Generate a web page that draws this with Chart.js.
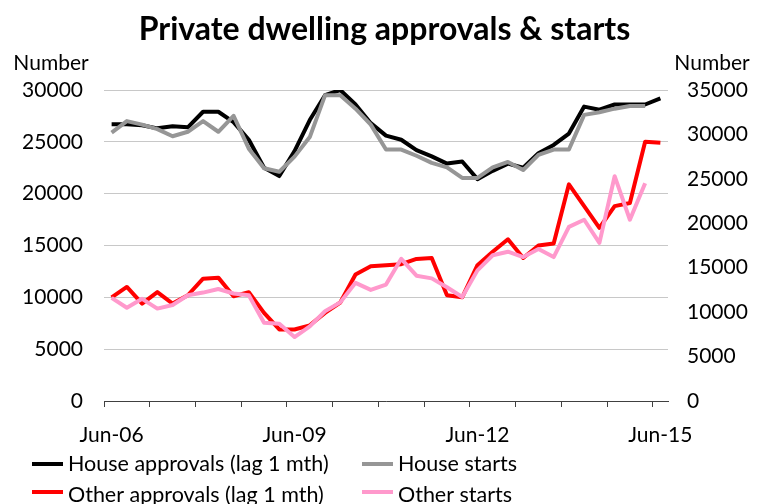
<!DOCTYPE html>
<html>
<head>
<meta charset="utf-8">
<title>Private dwelling approvals & starts</title>
<script src="https://cdn.jsdelivr.net/npm/chart.js@4.4.1/dist/chart.umd.min.js"></script>
<style>
  html, body { margin: 0; padding: 0; background: #fff; }
  canvas { display: block; }
</style>
</head>
<body>
<canvas id="dwellings" width="769" height="504"></canvas>
<script>
// quarterly, Jun-06 .. Jun-15
const quarters = [
  'Jun-06','Sep-06','Dec-06',
  'Mar-07','Jun-07','Sep-07','Dec-07',
  'Mar-08','Jun-08','Sep-08','Dec-08',
  'Mar-09','Jun-09','Sep-09','Dec-09',
  'Mar-10','Jun-10','Sep-10','Dec-10',
  'Mar-11','Jun-11','Sep-11','Dec-11',
  'Mar-12','Jun-12','Sep-12','Dec-12',
  'Mar-13','Jun-13','Sep-13','Dec-13',
  'Mar-14','Jun-14','Sep-14','Dec-14',
  'Mar-15','Jun-15'
];
const shownLabels = ['Jun-06', 'Jun-09', 'Jun-12', 'Jun-15'];

// left axis
const houseApprovals = [26700,26700,26600,26300,26500,26400,27900,27900,26900,25200,22500,21700,24100,27100,29500,30000,28600,26800,25600,25200,24200,23600,22900,23100,21400,22200,22900,22500,23900,24700,25800,28400,28100,28600,28600,28600,29200];
const otherApprovals = [10000,11000,9400,10500,9400,10200,11800,11900,10100,10500,8500,6900,6900,7300,8500,9500,12200,13000,13100,13200,13700,13800,10200,10000,13100,14400,15600,13800,15000,15200,20900,18800,16700,18800,19100,25000,24900];
// right axis (one quarter shorter)
const houseStarts = [30200,31500,31100,30600,29800,30300,31500,30300,32100,28400,26200,25800,27500,29700,34400,34400,32900,31100,28300,28300,27600,26800,26300,25100,25100,26300,26900,26000,27700,28300,28300,32200,32500,32900,33200,33200];
const otherStarts = [11600,10500,11500,10400,10800,11900,12200,12600,12100,11900,8800,8700,7200,8400,10100,11100,13300,12500,13100,16000,14100,13800,12800,11700,14700,16400,16800,16200,17100,16200,19600,20400,17800,25300,20400,24500];

const FONT = 'Lato';

function line(label, data, color, axis, order) {
  return {
    label: label,
    data: data,
    yAxisID: axis,
    borderColor: color,
    backgroundColor: color,
    borderWidth: 4,
    borderJoinStyle: 'round',
    pointRadius: 0,
    tension: 0,
    order: order
  };
}

// two-column legend under the axis + unit labels over the y axes
const extras = {
  id: 'extras',
  afterDraw(chart) {
    const c = chart.ctx;
    const sets = chart.data.datasets;
    c.save();
    c.fillStyle = '#000';
    c.font = '21px ' + FONT;
    c.textBaseline = 'middle';
    c.textAlign = 'center';
    c.fillText('Number', 51, 63);
    c.fillText('Number', 712, 63);

    c.font = '21.5px ' + FONT;
    c.textAlign = 'left';
    const cols = [32, 362];
    sets.forEach((ds, i) => {
      const col = i % 2, row = Math.floor(i / 2);
      const x = cols[col];
      const ly = 464 + row * 28;
      const ty = 464 + row * 31;
      c.strokeStyle = ds.borderColor;
      c.lineWidth = 4;
      c.beginPath();
      c.moveTo(x, ly);
      c.lineTo(x + 31, ly);
      c.stroke();
      c.fillText(ds.label, x + 36, ty);
    });
    c.restore();
  }
};

new Chart(document.getElementById('dwellings'), {
  type: 'line',
  data: {
    labels: quarters,
    datasets: [
      line('House approvals (lag 1 mth)', houseApprovals, '#000000', 'y', 1),
      line('House starts', houseStarts, '#969696', 'y2', 0),
      line('Other approvals (lag 1 mth)', otherApprovals, '#ff0000', 'y', 1),
      line('Other starts', otherStarts, '#ff99cc', 'y2', 0)
    ]
  },
  options: {
    responsive: false,
    animation: false,
    devicePixelRatio: 1,
    layout: { padding: 0 },
    plugins: {
      legend: { display: false },
      tooltip: { enabled: false },
      title: {
        display: true,
        text: 'Private dwelling approvals & starts',
        color: '#000',
        font: { family: FONT, size: 32, weight: 'bold', lineHeight: 1.2 },
        padding: { top: 10, bottom: 41.6 }
      }
    },
    scales: {
      x: {
        offset: true,
        grid: {
          offset: true,
          drawOnChartArea: false,
          drawTicks: true,
          tickLength: 6,
          lineWidth: 1,
          // a tick mark every third quarter
          color: ctx => (ctx.index % 3 === 0 ? '#404040' : 'rgba(0,0,0,0)')
        },
        border: { display: true, color: '#404040', width: 1 },
        ticks: {
          autoSkip: false,
          maxRotation: 0,
          minRotation: 0,
          padding: 16,
          color: '#000',
          font: { family: FONT, size: 21 },
          callback: (v, i) => (shownLabels.includes(quarters[i]) ? quarters[i] : '')
        },
        afterFit(s) { s.height = 103; }
      },
      y: {
        position: 'left',
        min: 0,
        max: 30000,
        grid: { color: '#c8c8c8', lineWidth: 1, drawTicks: false },
        border: { display: false },
        ticks: {
          stepSize: 5000,
          padding: 21,
          color: '#000',
          font: { family: FONT, size: 21 },
          callback: v => String(v)
        },
        afterFit(s) { s.width = 104; }
      },
      y2: {
        position: 'right',
        min: 0,
        max: 35000,
        grid: { drawOnChartArea: false, drawTicks: false },
        border: { display: false },
        ticks: {
          stepSize: 5000,
          padding: 19,
          color: '#000',
          font: { family: FONT, size: 21 },
          callback: v => String(v)
        },
        afterFit(s) { s.width = 101; }
      }
    }
  },
  plugins: [extras]
});
</script>
</body>
</html>
